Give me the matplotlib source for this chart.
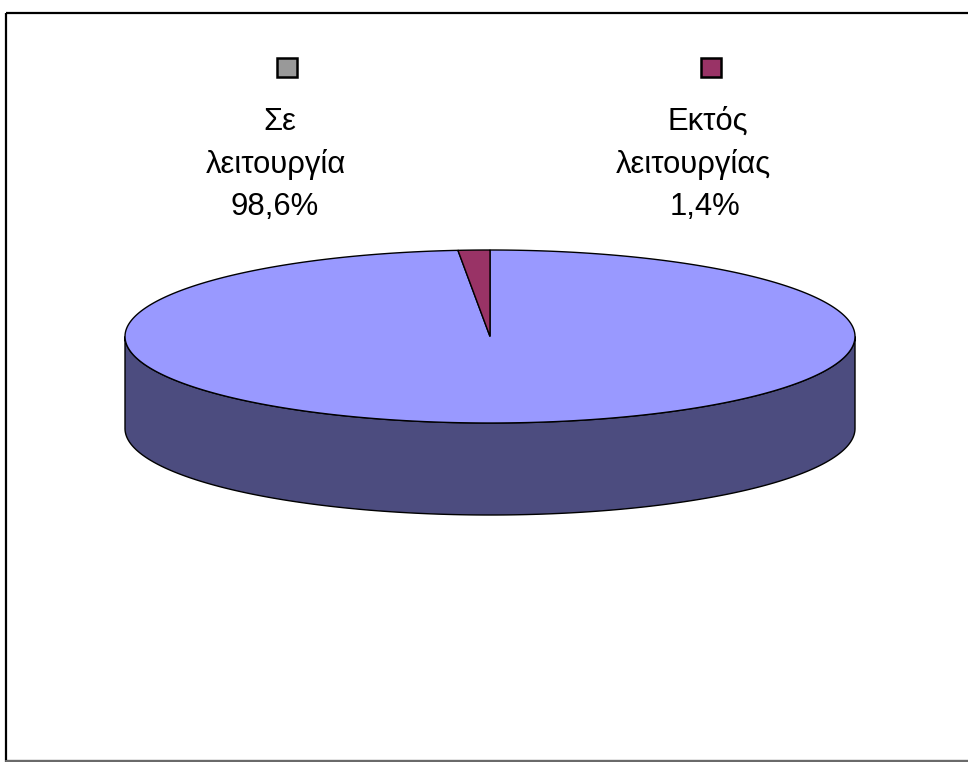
import numpy as np
import matplotlib
matplotlib.use("Agg")
import matplotlib.pyplot as plt
from matplotlib.patches import Polygon, Rectangle

plt.rcParams['font.family'] = ['Liberation Sans', 'DejaVu Sans']

categories = ["Σε\nλειτουργία", "Εκτός\nλειτουργίας"]
values = [98.6, 1.4]
pct_labels = ["98,6%", "1,4%"]
top_colors = ["#9999FF", "#993366"]
side_colors = ["#4C4C7F", "#4C1A33"]
legend_colors = ["#999999", "#993366"]

W, H = 968, 762
fig = plt.figure(figsize=(W / 100, H / 100), dpi=100)
ax = fig.add_axes([0, 0, 1, 1])
ax.set_xlim(0, W)
ax.set_ylim(H, 0)
ax.axis('off')

# outer frame
ax.add_patch(Rectangle((5.5, 13), W + 10, 747.5, fill=False, edgecolor='black', lw=1.6, zorder=1))
ax.plot([6, W], [761, 761], color='#808080', lw=1.2, zorder=1)

cx, cy, rx, ry, depth = 490, 336.5, 365, 86.5, 92

def pt(theta_deg, dy=0.0):
    t = np.deg2rad(theta_deg)
    return cx + rx * np.cos(t), cy - ry * np.sin(t) + dy

# slice angles: start at 12 o'clock, clockwise
total = sum(values)
starts = []
a = 90.0
for v in values:
    ext = 360.0 * v / total
    starts.append((a - ext, a))
    a -= ext

# side (front half only visible)
for (t1, t2), sc in zip(starts, side_colors):
    segs = []
    for shift in (0, -360, 360):
        a1, a2 = t1 + shift, t2 + shift
        s1, s2 = max(a1, -180), min(a2, 0)
        if s2 > s1:
            segs.append((s1, s2))
    for s1, s2 in segs:
        th = np.linspace(s1, s2, 300)
        top = [pt(t) for t in th]
        bot = [pt(t, depth) for t in th[::-1]]
        ax.add_patch(Polygon(top + bot, closed=True, facecolor=sc, edgecolor='black', lw=1.0, zorder=2))

# top faces
for (t1, t2), tc in zip(starts, top_colors):
    th = np.linspace(t1, t2, 400)
    verts = [(cx, cy)] + [pt(t) for t in th]
    ax.add_patch(Polygon(verts, closed=True, facecolor=tc, edgecolor='black', lw=1.0, joinstyle='miter', zorder=3))

# legend-like markers and labels
marker_x = [287, 711]
line_x = [[280, 276, 275], [708, 693.5, 705]]
baselines = [130, 172.5, 215]
for mx, lx, cat, pl, lc in zip(marker_x, line_x, categories, pct_labels, legend_colors):
    ax.add_patch(Rectangle((mx - 10, 58), 20, 19, facecolor=lc, edgecolor='black', lw=1.8, zorder=4))
    lines = cat.split("\n") + [pl]
    for x, y, s in zip(lx, baselines, lines):
        ax.text(x, y, s, ha='center', va='baseline', fontsize=22.3, color='black', zorder=5)

fig.savefig("out.png", dpi=100)
